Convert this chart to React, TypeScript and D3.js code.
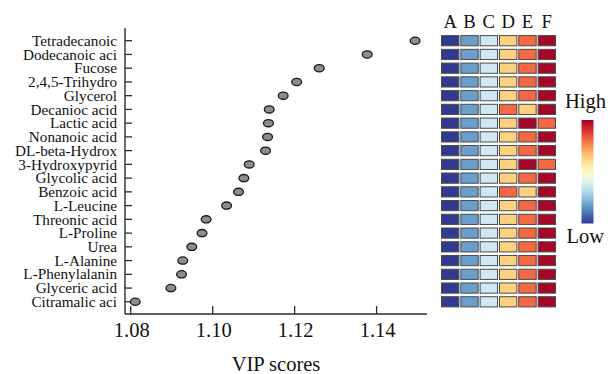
import React from "react";
import * as d3 from "d3";

// Metabolites ranked by VIP score (top to bottom)
const metabolites = [
  "Tetradecanoic",
  "Dodecanoic aci",
  "Fucose",
  "2,4,5-Trihydro",
  "Glycerol",
  "Decanioc acid",
  "Lactic acid",
  "Nonanoic acid",
  "DL-beta-Hydrox",
  "3-Hydroxypyrid",
  "Glycolic acid",
  "Benzoic acid",
  "L-Leucine",
  "Threonic acid",
  "L-Proline",
  "Urea",
  "L-Alanine",
  "L-Phenylalanin",
  "Glyceric acid",
  "Citramalic aci",
];

const vipScores = [
  1.1494, 1.1377, 1.126, 1.1205, 1.1172, 1.1138, 1.1136, 1.1134, 1.1129, 1.1089,
  1.1076, 1.1063, 1.1034, 1.0984, 1.0974, 1.0949, 1.0927, 1.0924, 1.0898, 1.0811,
];

const xTicks = [1.08, 1.1, 1.12, 1.14];

const groups = ["A", "B", "C", "D", "E", "F"];

// Relative abundance rank (0 = lowest, 5 = highest) of each metabolite per group
const groupRanks = [
  [0, 1, 2, 3, 4, 5],
  [0, 1, 2, 3, 4, 5],
  [0, 1, 2, 3, 4, 5],
  [0, 1, 2, 3, 4, 5],
  [0, 1, 2, 3, 4, 5],
  [0, 1, 2, 4, 3, 5],
  [0, 1, 2, 3, 5, 4],
  [0, 1, 2, 3, 4, 5],
  [0, 1, 2, 3, 4, 5],
  [0, 1, 2, 3, 5, 4],
  [0, 1, 2, 3, 4, 5],
  [0, 1, 2, 4, 3, 5],
  [0, 1, 2, 3, 4, 5],
  [0, 1, 2, 3, 4, 5],
  [0, 1, 2, 3, 4, 5],
  [0, 1, 2, 3, 4, 5],
  [0, 1, 2, 3, 4, 5],
  [0, 1, 2, 3, 4, 5],
  [0, 1, 2, 3, 4, 5],
  [0, 1, 2, 3, 4, 5],
];

const rankColors = ["#313a91", "#6a9fcb", "#cfe8f2", "#fdd17f", "#f46843", "#a3082a"];

const W = 608;
const H = 374;
const FONT = "'Liberation Serif', 'Times New Roman', serif";

export default function App() {
  const x = d3.scaleLinear().domain([1.0786, 1.1523]).range([125, 427]);
  const y = d3.scalePoint<string>().domain(metabolites).range([40.7, 301.8]);
  const col = d3.scaleBand<string>().domain(groups).range([441.5, 555.5]).paddingInner(0.1).paddingOuter(0);
  const color = d3.scaleOrdinal<number, string>().domain(d3.range(6)).range(rankColors);

  const axisColor = "#2b2b2b";
  const yTop = 28;
  const xAxisY = 314;

  const barX = 581.5;
  const barY0 = 120;
  const barY1 = 223.5;
  const gradStops = d3.range(0, 1.0001, 0.05);

  return (
    <svg
      width={W}
      height={H}
      style={{ position: "absolute", left: 0, top: 0, background: "#fff" }}
      fontFamily={FONT}
    >
      <defs>
        <linearGradient id="legendGrad" x1="0" y1="1" x2="0" y2="0">
          {gradStops.map((t) => (
            <stop key={t} offset={t} stopColor={d3.interpolateRdYlBu(1 - t)} />
          ))}
        </linearGradient>
      </defs>

      {/* Y axis */}
      <line x1={125} x2={125} y1={yTop} y2={xAxisY} stroke={axisColor} strokeWidth={1.4} />
      {metabolites.map((m) => (
        <g key={m}>
          <line x1={125} x2={132} y1={y(m)} y2={y(m)} stroke={axisColor} strokeWidth={1.3} />
          <text x={117} y={y(m)} dy="0.34em" textAnchor="end" fontSize={15.2} fill="#111">
            {m}
          </text>
        </g>
      ))}

      {/* X axis */}
      <line x1={125} x2={427} y1={xAxisY} y2={xAxisY} stroke={axisColor} strokeWidth={1.4} />
      {xTicks.map((t) => (
        <g key={t}>
          <line x1={x(t)} x2={x(t)} y1={xAxisY} y2={xAxisY - 8} stroke={axisColor} strokeWidth={1.3} />
          <text x={x(t) + 1} y={336.7} textAnchor="middle" fontSize={20.5} fill="#111">
            {d3.format(".2f")(t)}
          </text>
        </g>
      ))}
      <text x={276} y={370.5} textAnchor="middle" fontSize={20.5} fill="#111">
        VIP scores
      </text>

      {/* VIP points */}
      {metabolites.map((m, i) => (
        <ellipse
          key={m}
          cx={x(vipScores[i])}
          cy={y(m)}
          rx={4.9}
          ry={3.6}
          fill="#8d8d8d"
          stroke="#1a1a1a"
          strokeWidth={1.3}
        />
      ))}

      {/* Group heatmap */}
      {groups.map((g) => (
        <text
          key={g}
          x={(col(g) as number) + col.bandwidth() / 2}
          y={28.3}
          textAnchor="middle"
          fontSize={18.7}
          fill="#111"
        >
          {g}
        </text>
      ))}
      {metabolites.map((m, i) =>
        groups.map((g, j) => (
          <rect
            key={m + g}
            x={col(g)}
            y={(y(m) as number) - 5.1}
            width={col.bandwidth()}
            height={10.2}
            fill={color(groupRanks[i][j])}
            stroke="#4a4a4a"
            strokeWidth={1}
          />
        ))
      )}

      {/* Colour legend */}
      <rect x={barX} y={barY0} width={12} height={barY1 - barY0} fill="url(#legendGrad)" />
      <text x={565} y={107.7} fontSize={20.5} fill="#111">
        High
      </text>
      <text x={566.5} y={243} fontSize={20.5} fill="#111">
        Low
      </text>
    </svg>
  );
}
